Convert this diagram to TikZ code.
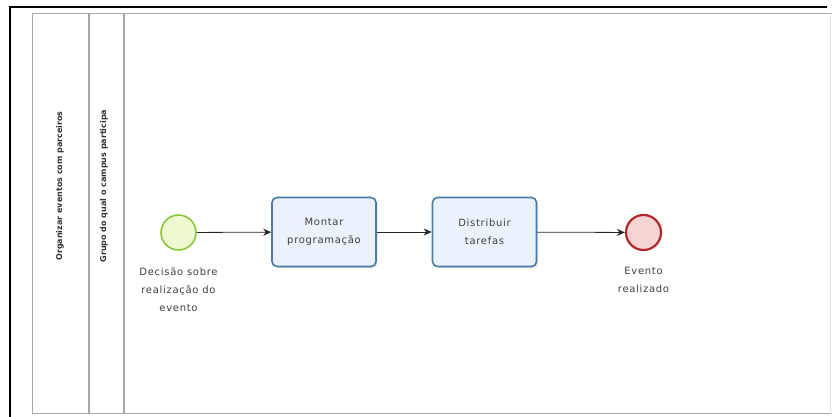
\documentclass[tikz,border=0pt]{standalone}
\usepackage{fontspec}
\setmainfont{DejaVu Sans}
\newfontfamily\labelfont[LetterSpace=7]{DejaVu Sans}
\usetikzlibrary{arrows.meta,shadows}
\definecolor{poolgray}{HTML}{A8A8A8}
\definecolor{taskfill}{HTML}{EAF2FB}
\definecolor{taskline}{HTML}{4B7BA6}
\definecolor{startfill}{HTML}{EEF9D2}
\definecolor{startline}{HTML}{8CC63E}
\definecolor{endfill}{HTML}{F6D4D4}
\definecolor{endline}{HTML}{B3262B}
\definecolor{labeltext}{HTML}{404040}
\tikzset{
  lane/.style={draw=poolgray, line width=1.6pt},
  lanetitle/.style={rotate=90, font=\fontsize{8}{9}\selectfont\bfseries, text=black!80},
  task/.style={draw=taskline, line width=1.6pt, fill=taskfill, rounded corners=5pt,
    minimum width=104pt, minimum height=69pt, align=center, text=labeltext,
    font=\labelfont\fontsize{10}{18}\selectfont,
    drop shadow={shadow xshift=1.5pt, shadow yshift=-1.5pt, opacity=0.25, fill=gray}},
  startev/.style={circle, draw=startline, line width=1.6pt, fill=startfill, minimum size=35pt, inner sep=0pt},
  endev/.style={circle, draw=endline, line width=2.2pt, fill=endfill, minimum size=35pt, inner sep=0pt},
  evlabel/.style={align=center, text=labeltext, font=\labelfont\fontsize{10}{18}\selectfont, anchor=north},
  flow/.style={draw=black!85, line width=0.8pt, -{Stealth[length=8pt,width=7pt]}}
}
\begin{document}
\begin{tikzpicture}[x=1pt,y=-1pt]
  \useasboundingbox (0,0) rectangle (832,417);
  \fill[white] (0,0) rectangle (832,417);
  % outer frame
  \draw[black, line width=2pt] (9.5,417) -- (9.5,7.5) -- (827,7.5);
  % pool and lanes
  \draw[lane] (832,13.5) -- (32.5,13.5) -- (32.5,413.5) -- (832,413.5);
  \draw[lane] (89,13.5) -- (89,413.5);
  \draw[lane] (124,13.5) -- (124,413.5);
  \draw[draw=black!10, line width=1pt] (830,13.5) -- (830,413.5);
  \node[lanetitle] (pooltitle) at (60,186) {Organizar eventos com parceiros};
  \node[lanetitle] (lanetitle) at (104,186) {Grupo do qual o campus participa};
  % flow elements
  \node[startev] (start) at (178.5,232.5) {};
  \node[task] (t1) at (324,232) {Montar\\programação};
  \node[task] (t2) at (484.5,232) {Distribuir\\tarefas};
  \node[endev] (end) at (643.5,232.5) {};
  \node[evlabel] (startlbl) at (178.5,264) {Decisão sobre\\realização do\\evento};
  \node[evlabel] (endlbl) at (643.5,264) {Evento\\realizado};
  % sequence flows
  \draw[flow] (start) -- (t1);
  \draw[flow] (t1) -- (t2);
  \draw[flow] (t2) -- (end);
\end{tikzpicture}
\end{document}
